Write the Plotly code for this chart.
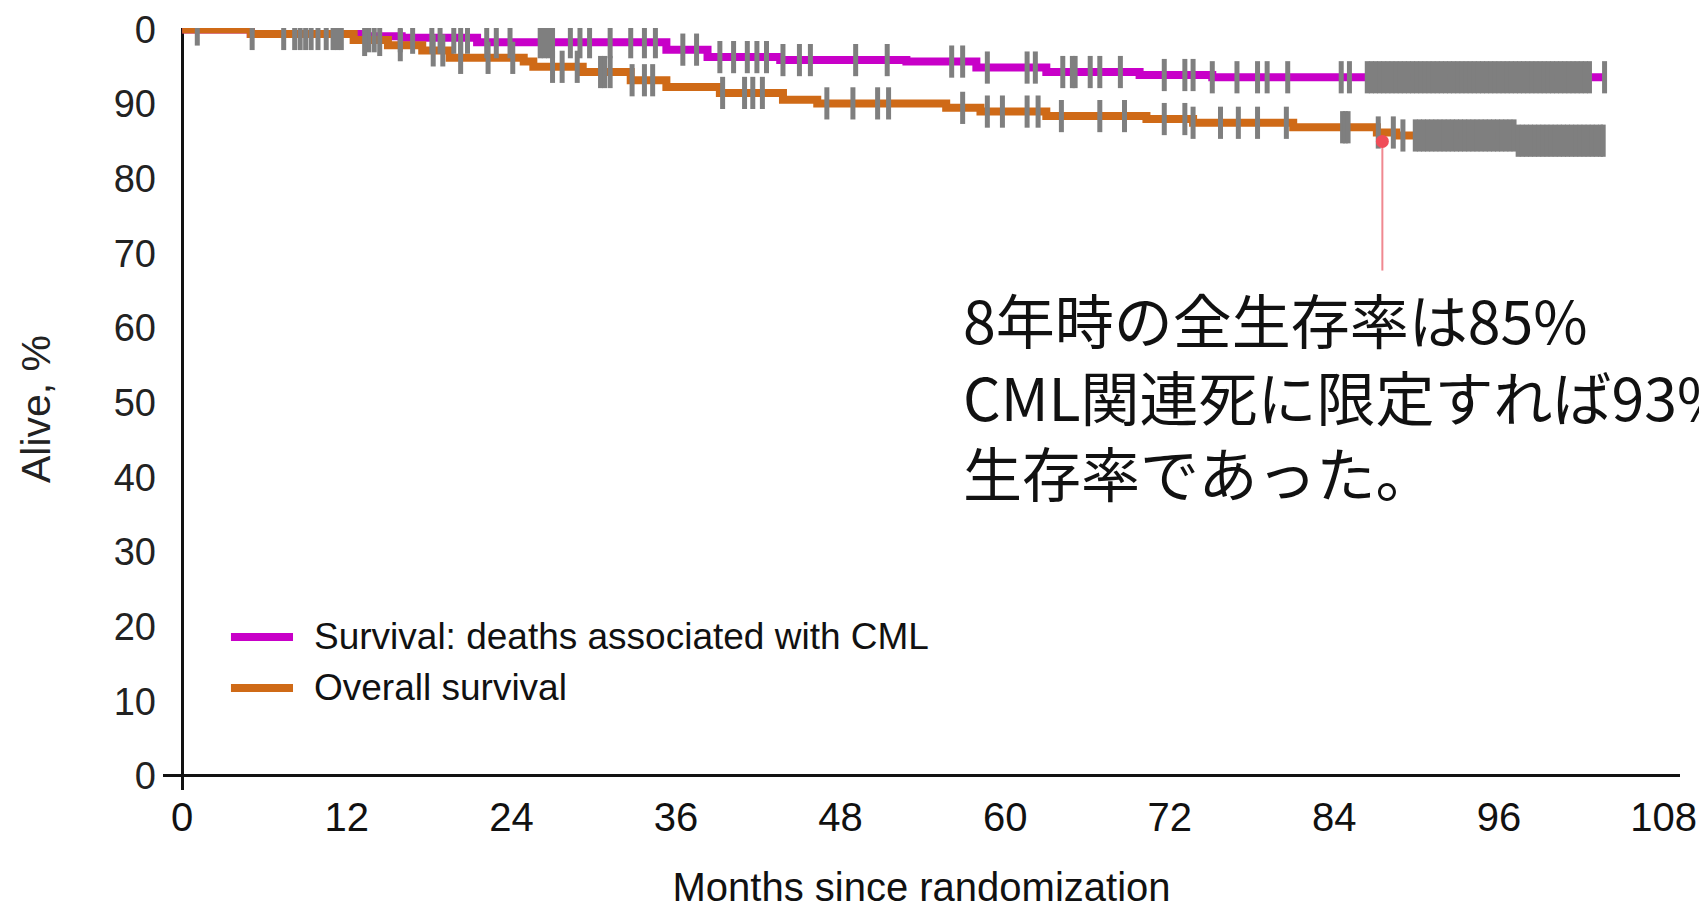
import plotly.graph_objects as go

# Axis ticks
month_ticks = [0, 12, 24, 36, 48, 60, 72, 84, 96, 108]
alive_ticks = [0, 10, 20, 30, 40, 50, 60, 70, 80, 90, 100]
alive_tick_text = ["0", "10", "20", "30", "40", "50", "60", "70", "80", "90", "0"]

# Kaplan-Meier step curves (months, % alive)
cml_t = [0, 5.0, 13.0, 16.0, 21.5, 35.3, 38.3, 43.6, 52.8, 57.9, 63.0, 69.8, 75.1, 103.7]
cml_s = [100, 99.4, 99.1, 98.9, 98.3, 97.3, 96.3, 95.9, 95.7, 94.9, 94.3, 93.9, 93.6, 93.6]

os_t = [0, 5.0, 12.5, 15.0, 17.5, 19.5, 24.9, 25.6, 29.2, 32.7, 35.3, 39.2, 43.8, 46.3,
        55.7, 58.2, 63.0, 70.3, 73.7, 81.0, 87.1, 88.5, 97.3, 103.6]
os_s = [100, 99.4, 98.6, 97.9, 97.2, 96.2, 95.7, 95.0, 94.3, 93.2, 92.3, 91.5, 90.6, 90.1,
        89.5, 89.0, 88.4, 88.0, 87.5, 86.9, 86.2, 85.8, 85.1, 85.1]

# Censored observations (months)
cml_censor = [10.5, 11.3, 13.6, 14.0, 15.9, 16.8, 18.2, 18.8, 19.8, 20.3, 20.8, 22.2, 22.9,
              23.9, 26.1, 26.4, 26.7, 27.0, 28.3, 29.0, 29.7, 31.2, 32.7, 33.7, 34.5, 36.5,
              37.5, 39.2, 40.2, 41.2, 41.9, 42.6, 43.8, 45.0, 45.8, 49.1, 51.4, 56.1, 56.9,
              58.7, 61.6, 62.2, 64.2, 64.9, 65.1, 66.2, 66.9, 68.4, 71.6, 73.1, 73.7, 75.1,
              76.9, 78.4, 79.1, 80.6, 84.5, 85.1,
              86.4, 86.7, 87.0, 87.3, 87.6, 87.9, 88.2, 88.5, 88.8, 89.1, 89.4, 89.7, 90.0,
              90.3, 90.6, 90.9, 91.2, 91.5, 91.8, 92.1, 92.4, 92.7, 93.0, 93.3, 93.6, 93.9,
              94.2, 94.5, 94.8, 95.1, 95.4, 95.7, 96.0, 96.3, 96.6, 96.9, 97.2, 97.5, 97.8,
              98.1, 98.4, 98.7, 99.0, 99.3, 99.6, 99.9, 100.2, 100.5, 100.8, 101.1, 101.4,
              101.7, 102.0, 102.3, 102.6, 103.7]
os_censor = [1.1, 5.1, 7.4, 8.2, 8.6, 9.0, 9.4, 9.9, 11.0, 11.6, 13.3, 14.4, 15.9, 18.3, 19.0,
             20.3, 22.3, 24.1, 27.0, 27.7, 28.8, 30.5, 30.8, 31.2, 32.8, 33.7, 34.3, 39.4,
             41.0, 41.6, 42.3, 47.0, 48.9, 50.7, 51.5, 56.9, 58.7, 59.8, 61.6, 62.4, 64.1,
             66.9, 68.7, 71.6, 73.1, 73.7, 75.7, 77.0, 78.4, 80.5, 84.6, 84.8, 85.0, 87.2,
             88.3, 89.0,
             89.9, 90.2, 90.5, 90.8, 91.1, 91.4, 91.7, 92.0, 92.3, 92.6, 92.9, 93.2, 93.5,
             93.8, 94.1, 94.4, 94.7, 95.0, 95.3, 95.6, 95.9, 96.2, 96.5, 96.8, 97.1, 97.4,
             97.7, 98.0, 98.3, 98.6, 98.9, 99.2, 99.5, 99.8, 100.1, 100.4, 100.7, 101.0,
             101.3, 101.6, 101.9, 102.2, 102.5, 102.8, 103.1, 103.4, 103.6]

series_names = ["Survival: deaths associated with CML", "Overall survival"]
series_colors = ["#c800c8", "#cf6a17"]

# Pointer to the 8-year overall survival estimate
pointer_month = 87.5
pointer_top = 85.0
pointer_bottom = 67.7

note_text = "8年時の全生存率は85%<br>CML関連死に限定すれば93%<br>生存率であった。"

NARROW = "Liberation Sans Narrow, Liberation Sans, Arial, sans-serif"
REGULAR = "Liberation Sans, Arial, sans-serif"
CENSOR_GREY = "#7f7f7f"


def survival_at(times, surv, t):
    value = surv[0]
    for ti, si in zip(times, surv):
        if ti <= t:
            value = si
        else:
            break
    return value


fig = go.Figure()

for t, s, name, color in [(cml_t, cml_s, series_names[0], series_colors[0]),
                          (os_t, os_s, series_names[1], series_colors[1])]:
    fig.add_trace(go.Scatter(x=t, y=s, mode="lines", name=name, line_shape="hv",
                             line=dict(color=color, width=8), showlegend=False))

for times, t, s in [(cml_censor, cml_t, cml_s), (os_censor, os_t, os_s)]:
    fig.add_trace(go.Scatter(
        x=times, y=[survival_at(t, s, c) for c in times], mode="markers",
        marker=dict(symbol="line-ns", size=23, line=dict(color=CENSOR_GREY, width=5)),
        showlegend=False, hoverinfo="skip"))

fig.add_trace(go.Scatter(x=[pointer_month, pointer_month], y=[pointer_top, pointer_bottom],
                         mode="lines", line=dict(color="#f08890", width=2), showlegend=False))
fig.add_trace(go.Scatter(x=[pointer_month], y=[pointer_top], mode="markers",
                         marker=dict(color="#f04c58", size=13), showlegend=False))

# Legend drawn as swatch lines with labels
legend_rows = [0.2008, 0.1339]
for name, color, yrow in zip(series_names, series_colors, legend_rows):
    fig.add_shape(type="line", xref="paper", yref="paper", x0=0.0448, x1=0.0857,
                  y0=yrow, y1=yrow, line=dict(color=color, width=8))
    fig.add_annotation(xref="paper", yref="paper", x=0.0982, y=yrow, text=name,
                       showarrow=False, xanchor="left", yanchor="middle",
                       font=dict(family=NARROW, size=37, color="#111111"))

fig.add_annotation(x=56.8, y=51.0, text=note_text, showarrow=False, xanchor="left",
                   yanchor="middle", align="left",
                   font=dict(family="Noto Sans CJK JP", size=59, color="#111111"))

fig.update_layout(
    width=1699, height=909,
    margin=dict(l=163, r=19, t=28, b=119),
    paper_bgcolor="white", plot_bgcolor="white",
    showlegend=False,
)
fig.update_xaxes(
    range=[-1.4, 109.2], tickvals=month_ticks, ticks="", showgrid=False,
    showline=False, zeroline=True, zerolinecolor="#111111", zerolinewidth=3,
    tickfont=dict(family=NARROW, size=40, color="#111111"), ticklabelstandoff=0,
    ticklabeloverflow="allow", automargin=False,
    title=dict(text="Months since randomization", standoff=38,
               font=dict(family=NARROW, size=40, color="#111111")),
)
fig.update_yaxes(
    range=[-1.9, 100.2], tickvals=alive_ticks, ticktext=alive_tick_text, ticks="",
    showgrid=False, showline=False, zeroline=True, zerolinecolor="#111111",
    zerolinewidth=3, tickfont=dict(family=REGULAR, size=38, color="#222222"),
    ticklabelstandoff=6, automargin=False,
    title=dict(text="Alive, %", standoff=50,
               font=dict(family=REGULAR, size=41, color="#222222")),
)

fig.write_html("out.html")
